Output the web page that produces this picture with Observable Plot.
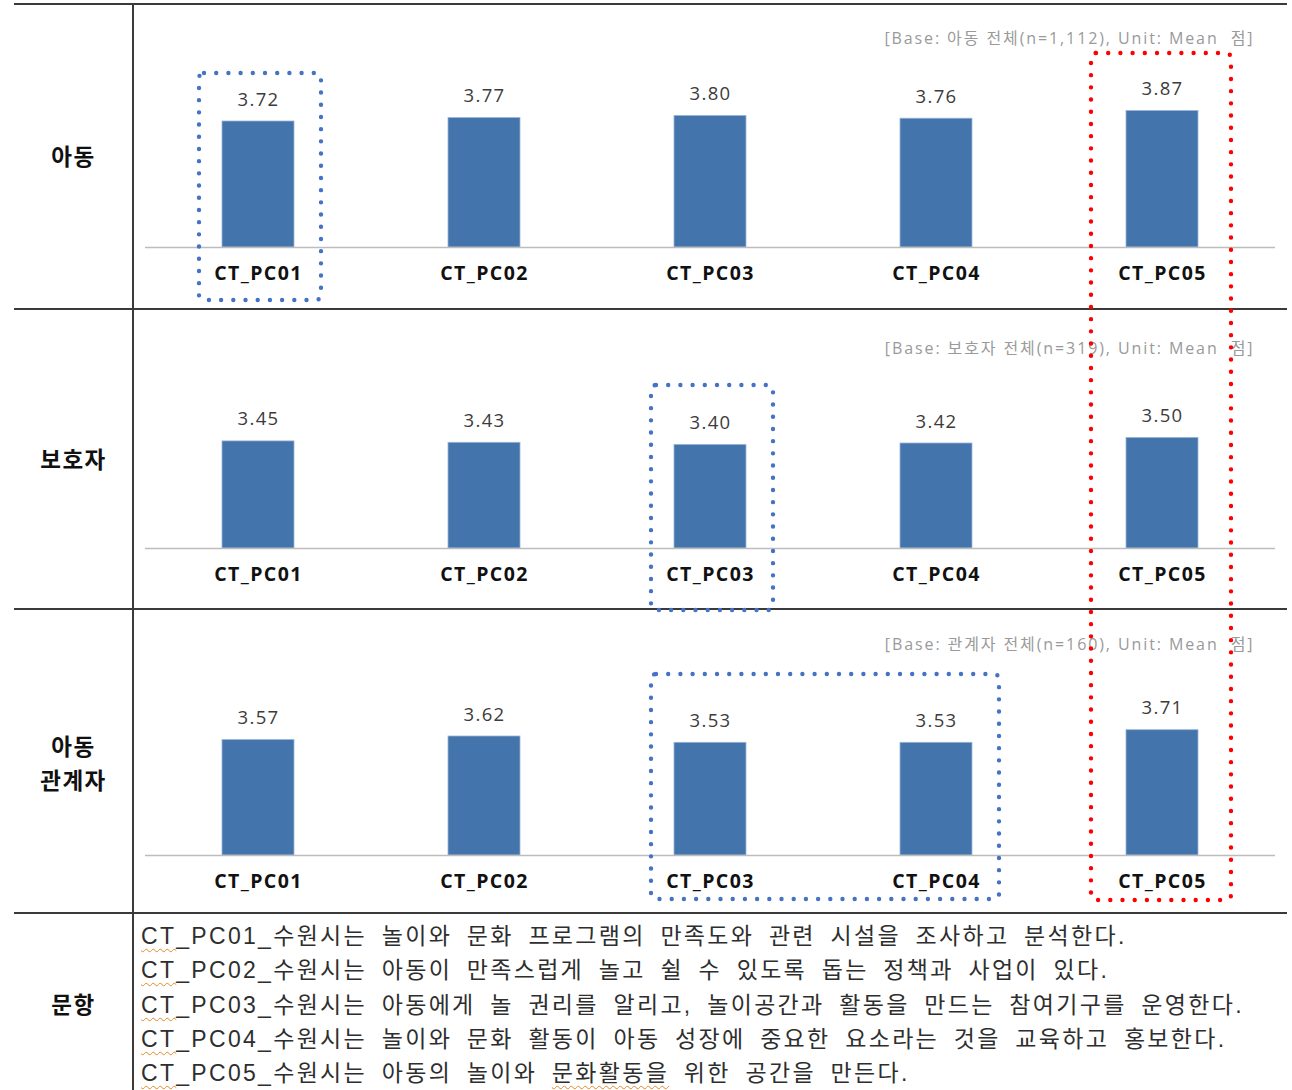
<!DOCTYPE html>
<html>
<head>
<meta charset="utf-8">
<script src="https://cdn.jsdelivr.net/npm/d3@7"></script>
<script src="https://cdn.jsdelivr.net/npm/@observablehq/plot@0.6"></script>
<style>
  html, body { margin: 0; padding: 0; background: #fff; }
  #page { position: relative; width: 1292px; height: 1090px; background: #fff; overflow: hidden;
          font-family: "Open Sans", "Noto Sans CJK KR", sans-serif; }
  .hline { position: absolute; height: 2px; background: #3a3a3a; }
  .vline { position: absolute; width: 2px; background: #3a3a3a; }
  .rowlabel { position: absolute; left: 14px; width: 119px; text-align: center; font-weight: 700;
              font-size: 22.5px; letter-spacing: 1.5px; color: #111; font-family: "Noto Sans CJK KR", sans-serif; line-height: 34px; }
  .plotbox { position: absolute; left: 132px; }
  #items { position: absolute; left: 141px; top: 919px; font-family: "Liberation Sans", "Noto Sans CJK KR", sans-serif;
           font-size: 23px; line-height: 34.3px; color: #2e2e2e; white-space: pre;
           letter-spacing: 2.3px; word-spacing: 6px; }
  .sp { text-decoration: underline wavy #e08a2a; text-decoration-thickness: 1px; text-underline-offset: 4px; }
  #overlay { position: absolute; left: 0; top: 0; pointer-events: none; }
</style>
</head>
<body>
<div id="page"></div>
<script>
// ---------------- data ----------------
const categories = ["CT_PC01", "CT_PC02", "CT_PC03", "CT_PC04", "CT_PC05"];
const childValues = [3.72, 3.77, 3.80, 3.76, 3.87];
const guardianValues = [3.45, 3.43, 3.40, 3.42, 3.50];
const relatedValues = [3.57, 3.62, 3.53, 3.53, 3.71];
const rowLabels = ["아동", "보호자", "아동\n관계자"];
const itemHeader = "문항";
const baseNotes = [
  "[Base: 아동 전체(n=1,112), Unit: Mean  점]",
  "[Base: 보호자 전체(n=319), Unit: Mean  점]",
  "[Base: 관계자 전체(n=160), Unit: Mean  점]"
];
const itemTexts = [
  "CT_PC01_수원시는 놀이와 문화 프로그램의 만족도와 관련 시설을 조사하고 분석한다.",
  "CT_PC02_수원시는 아동이 만족스럽게 놀고 쉴 수 있도록 돕는 정책과 사업이 있다.",
  "CT_PC03_수원시는 아동에게 놀 권리를 알리고, 놀이공간과 활동을 만드는 참여기구를 운영한다.",
  "CT_PC04_수원시는 놀이와 문화 활동이 아동 성장에 중요한 요소라는 것을 교육하고 홍보한다.",
  "CT_PC05_수원시는 아동의 놀이와 문화활동을 위한 공간을 만든다."
];
// highlighted categories (first row .. last row, first cat .. last cat)
const highlightCats = [["CT_PC01", "CT_PC01"], ["CT_PC03", "CT_PC03"], ["CT_PC03", "CT_PC04"], ["CT_PC05", "CT_PC05"]];
const highlightRows = [[0, 0], [1, 1], [2, 2], [0, 2]];
const highlightColors = ["#4472C4", "#4472C4", "#4472C4", "#FF0000"];

// ---------------- layout ----------------
const page = document.getElementById("page");
const lineYs = [4, 309, 609, 913];
const Y0 = 1.92, Y1 = 4.8;
const rows = [
  {values: childValues, top: 5, bottom: 308, baseline: 247, noteY: 38},
  {values: guardianValues, top: 310, bottom: 608, baseline: 548, noteY: 348},
  {values: relatedValues, top: 610, bottom: 912, baseline: 855, noteY: 644}
];
const areaH = (Y1 - Y0) * 70;
const plotLeft = 132;

function el(cls, css, text) {
  const d = document.createElement("div");
  d.className = cls;
  Object.assign(d.style, css);
  if (text != null) d.textContent = text;
  page.appendChild(d);
  return d;
}
lineYs.forEach(y => el("hline", {left: "14px", width: "1273px", top: (y - 1) + "px"}));
el("vline", {left: "132px", top: "4px", height: "1086px"});

const labelCenters = [155, 458, 762, 1003];
rowLabels.concat([itemHeader]).forEach((t, i) => {
  const n = t.split("\n").length;
  el("rowlabel", {top: (labelCenters[i] - 17 * n) + "px", whiteSpace: "pre"}, t);
});

const charts = rows.map((r, i) => {
  const data = categories.map((c, j) => ({category: c, value: r.values[j]}));
  const h = r.bottom - r.top;
  const mb = r.bottom - r.baseline;
  const mt = h - mb - areaH;
  const chart = Plot.plot({
    width: 1156, height: h,
    marginLeft: 13, marginRight: 13, marginTop: mt, marginBottom: mb,
    x: {domain: categories, paddingInner: 0.68, paddingOuter: 0.34, axis: null},
    y: {domain: [Y0, Y1], axis: null},
    style: {fontFamily: '"Open Sans", "Noto Sans CJK KR", sans-serif', background: "transparent", overflow: "visible"},
    marks: [
      Plot.barY(data, {x: "category", y1: Y0, y2: "value", fill: "#4474AC", stroke: "#9ab6da", strokeWidth: 0.8}),
      Plot.ruleY([Y0], {stroke: "#bdbdbd", strokeWidth: 1.6}),
      Plot.text(data, {x: "category", y: "value", text: d => d.value.toFixed(2), dy: -16, lineAnchor: "bottom",
                       fontSize: 18.5, fill: "#3c3c3c"}),
      Plot.text(data, {x: "category", text: "category", frameAnchor: "bottom", dy: 26, lineAnchor: "middle",
                       fontSize: 19.5, fontWeight: 700, fill: "#111"}),
      Plot.text([baseNotes[i]], {text: d => d, frameAnchor: "top-right", textAnchor: "end", lineAnchor: "middle",
                       dx: -21, dy: (r.noteY - r.top) - mt, fontSize: 16, fill: "#9a9a9a"})
    ]
  });
  // letter spacing for the text marks (wide Excel-like typography)
  const groups = chart.querySelectorAll("g[aria-label='text']");
  if (groups[0]) groups[0].setAttribute("letter-spacing", "1.3");
  if (groups[1]) groups[1].setAttribute("letter-spacing", "1.4");
  if (groups[2]) groups[2].setAttribute("letter-spacing", "1.9");
  const box = el("plotbox", {top: r.top + "px"});
  box.appendChild(chart);
  return chart;
});

// items
const items = el("", {}, null);
items.id = "items";
items.innerHTML = itemTexts.map(t => {
  let s = t.replace(/^CT/, '<span class="sp">CT</span>');
  s = s.replace("문화활동을", '<span class="sp">문화활동을</span>');
  return s;
}).join("\n");

// overlay highlight boxes
const svgNS = "http://www.w3.org/2000/svg";
const ov = document.createElementNS(svgNS, "svg");
ov.setAttribute("id", "overlay");
ov.setAttribute("width", 1292);
ov.setAttribute("height", 1090);
page.appendChild(ov);
const xs = charts[0].scale("x");
const cx = c => plotLeft + xs.apply(c) + xs.bandwidth / 2;
const boxTop = [[69, 49], [76, 49], [65, 49]];
const boxBottom = [[-9, -13], [1, -13], [-14, -13]];
highlightCats.forEach((cats, k) => {
  const red = highlightColors[k] === "#FF0000";
  const xL = cx(cats[0]) - (red ? 71 : 59);
  const xR = cx(cats[1]) + (red ? 69 : 63);
  const [r0, r1] = highlightRows[k];
  const yT = lineYs[r0] + boxTop[r0][red ? 1 : 0];
  const yB = lineYs[r1 + 1] + boxBottom[r1][red ? 1 : 0];
  const rect = document.createElementNS(svgNS, "rect");
  rect.setAttribute("x", xL); rect.setAttribute("y", yT);
  rect.setAttribute("width", xR - xL); rect.setAttribute("height", yB - yT);
  rect.setAttribute("rx", 5);
  rect.setAttribute("fill", "none");
  rect.setAttribute("stroke", highlightColors[k]);
  rect.setAttribute("stroke-width", 4.4);
  rect.setAttribute("stroke-linecap", "round");
  rect.setAttribute("stroke-dasharray", "0 12.2");
  ov.appendChild(rect);
});
</script>
</body>
</html>
